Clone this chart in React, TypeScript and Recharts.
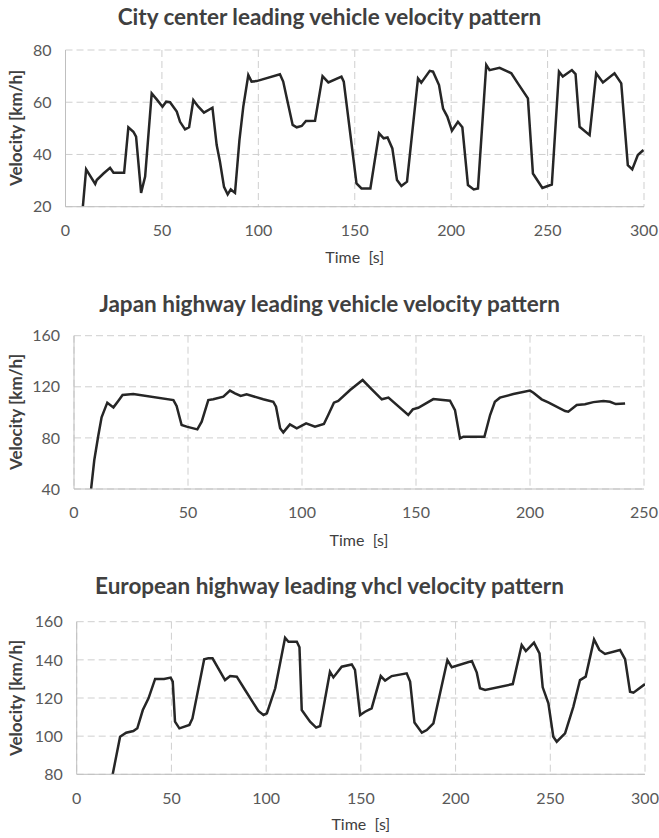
import React from "react";
import { LineChart, Line, XAxis, YAxis, CartesianGrid } from "recharts";

// City center cycle
const cityTime = [
  9, 10.7, 15.4, 16.2, 19.7, 23.1, 24.9, 30.4, 32.6, 35.2, 36.6, 39.2, 41.3, 44.7, 47.3, 50.3,
  52.2, 54.2, 57.7, 59.4, 62, 64.1, 66.3, 68.9, 71.8, 76.2, 78.4, 80.1, 82.2, 84.1, 85.7, 87.9,
  90.2, 92.2, 94.8, 96.5, 99.1, 111.2, 112.9, 115, 117.8, 119.9, 122.5, 124.7, 129.4, 133.3,
  136.3, 143.1, 144.3, 150.9, 153.5, 158.1, 162.6, 165, 167, 169.5, 171.9, 174.2, 177.1, 182.8,
  184.5, 188.9, 190.6, 193.7, 195.8, 198, 200.4, 203.5, 205.8, 208.7, 211.7, 213.9, 218.2, 219.9,
  225.1, 231.2, 234.6, 239.8, 242.4, 244.1, 247.3, 252.2, 255.9, 257.9, 262.6, 264.5, 266.6,
  271.8, 275.2, 278.7, 284.7, 288.2, 291.6, 293.9, 296.8, 299.7,
];
const citySpeed = [
  20, 34.3, 28.7, 30.2, 32.7, 34.9, 33, 33, 50.4, 48.7, 46.8, 25.3, 31.5, 63.4, 61.1, 58.3, 60.2,
  60, 56.4, 52.5, 49.6, 50.4, 60.8, 58.3, 56, 57.9, 43.6, 37.2, 27.6, 24.7, 26.6, 25.3, 45.5, 58.3,
  70.4, 67.9, 68.1, 70.7, 67.9, 60.8, 51.3, 50.4, 50.9, 52.8, 52.9, 70, 67.6, 69.8, 67.9, 28.9, 27,
  27, 48.1, 46.2, 46.5, 42.3, 30.2, 27.9, 29.6, 69.1, 67.5, 72, 71.7, 66.6, 57.6, 54.5, 49.1, 52.5,
  50.4, 28.3, 26.6, 27, 74.3, 72.3, 73.2, 71.1, 67.2, 61.5, 32.7, 30.8, 27.2, 28.5, 71.7, 69.8,
  72.3, 70.8, 50.6, 47.4, 71.1, 67.6, 71.1, 67.2, 35.9, 34.3, 39.8, 41.7,
];

// Japan highway cycle
const japanTime = [
  7.5, 8.9, 10.7, 12.1, 14.6, 17.3, 19.4, 21.3, 26, 43.6, 45, 47.2, 49.4, 54.1, 56, 58.9, 61.1,
  65.5, 68.4, 70.6, 73.1, 75.7, 83, 87.4, 88.6, 90.4, 91.8, 94.7, 97.7, 101.8, 105.7, 109.6, 111.5,
  114, 115.9, 121.1, 126.6, 130.6, 135, 137.9, 146.6, 148.6, 151, 157.6, 164.9, 167.1, 169.3,
  170.8, 180, 182.5, 184.6, 186.8, 192.7, 200, 201.5, 205.1, 208, 215.4, 216.8, 220.5, 224.1,
  227.8, 232.2, 235.1, 237.6, 241.7,
];
const japanSpeed = [
  40, 62.7, 82.3, 96.1, 107.6, 103.9, 108.9, 113.6, 114.3, 109.6, 105, 90.1, 88.8, 86.7, 92.7,
  109.6, 110.2, 112.3, 117, 114.9, 112.8, 114.1, 110.2, 108.3, 104.4, 87.5, 84.3, 90.6, 87.5, 91.4,
  88.8, 90.9, 97.9, 107.6, 108.9, 117.5, 125.3, 118, 110.2, 111.5, 97.9, 102.3, 103.6, 110.4,
  109.1, 101.8, 79.6, 80.9, 80.9, 97.9, 108.3, 111.5, 114.3, 117, 115.4, 110.2, 107.8, 101, 100.5,
  105.7, 106.3, 108, 108.9, 108.3, 106.5, 107,
];

// European highway cycle
const euroTime = [
  19, 22.9, 26.1, 29.9, 32, 34.9, 37.9, 41.4, 46.1, 49.6, 50.7, 51.9, 54.2, 59.5, 61.1, 67.3, 69.5,
  71.7, 78.3, 81, 84.5, 88.9, 95.9, 98.6, 100.4, 104.8, 110, 111.8, 116.2, 117.6, 118.8, 123.2,
  126.4, 128.5, 133.7, 135.5, 139.9, 145.2, 146.9, 149.6, 152.2, 155.7, 160.5, 162.8, 166.3,
  174.2, 176, 178.3, 182.2, 184.8, 188.3, 195.7, 198, 208.6, 211.2, 212.9, 215.6, 230.2, 234.9,
  237.1, 241.4, 244.3, 246, 249, 251.6, 253.4, 257.8, 262.2, 265.7, 268.7, 273.1, 275.9, 278.9,
  286.8, 289.5, 292.1, 293.9, 300,
];
const euroSpeed = [
  80, 99.7, 101.8, 102.7, 104.1, 113.7, 119.8, 130, 130, 130.7, 128.6, 107.6, 104.1, 105.9, 109.3,
  140.3, 140.8, 140.8, 129.4, 131.5, 131.2, 124.2, 113.2, 111.1, 112, 125.1, 151.6, 149.5, 149.5,
  146.6, 113.7, 107.6, 104.5, 105.3, 133.8, 130.8, 136.4, 137.6, 134.7, 111.1, 112.8, 114.6, 131.5,
  129.1, 131.5, 132.9, 128.6, 107.1, 101.8, 103.2, 106.7, 139.9, 136.1, 139.4, 133.3, 125.1, 124.2,
  127.3, 147.8, 144.6, 149, 143.4, 125.6, 117.2, 99.7, 97.1, 101.5, 115.5, 129.4, 131.2, 150.7,
  145.2, 143.1, 145.2, 140.3, 123.3, 122.8, 127.3,
];

const cityXTicks = [0, 50, 100, 150, 200, 250, 300];
const cityYTicks = [20, 40, 60, 80];
const japanXTicks = [0, 50, 100, 150, 200, 250];
const japanYTicks = [40, 80, 120, 160];
const euroXTicks = [0, 50, 100, 150, 200, 250, 300];
const euroYTicks = [80, 100, 120, 140, 160];

const zip = (t: number[], v: number[]) => t.map((time, i) => ({ time, v: v[i] }));

const FONT = "Lato, 'Open Sans', sans-serif";

interface PanelProps {
  top: number;
  height: number;
  title: string;
  titleY: number;
  data: { time: number; v: number }[];
  xTicks: number[];
  yTicks: number[];
  plot: { left: number; right: number; top: number; bottom: number };
  timeY: number;
}

function Panel({ top, height, title, titleY, data, xTicks, yTicks, plot, timeY }: PanelProps) {
  const yAxisW = 60;
  const xAxisH = 30;
  const plotCx = (plot.left + plot.right) / 2;
  const plotCy = (plot.top + plot.bottom) / 2;
  return (
    <>
      <div
        style={{
          position: "absolute",
          left: 0,
          width: 659,
          top: titleY - 14,
          height: 28,
          lineHeight: "28px",
          textAlign: "center",
          fontFamily: FONT,
          fontWeight: 700,
          fontSize: 22.5,
          color: "#404040",
        }}
      >
        {title}
      </div>
      <div style={{ position: "absolute", left: 0, top }}>
        <LineChart
          width={659}
          height={height}
          data={data}
          margin={{
            top: plot.top - top,
            bottom: top + height - plot.bottom - xAxisH,
            left: plot.left - yAxisW,
            right: 659 - plot.right,
          }}
        >
          <CartesianGrid stroke="#cfcfcf" strokeDasharray="7 4" strokeWidth={1} />
          <XAxis
            dataKey="time"
            type="number"
            height={xAxisH}
            domain={[xTicks[0], xTicks[xTicks.length - 1]]}
            ticks={xTicks}
            tickLine={false}
            axisLine={{ stroke: "#bfbfbf" }}
            tickMargin={12}
            tick={{ fill: "#595959", fontSize: 16, fontFamily: FONT }}
            allowDataOverflow
          />
          <YAxis
            type="number"
            width={yAxisW}
            domain={[yTicks[0], yTicks[yTicks.length - 1]]}
            ticks={yTicks}
            tickLine={false}
            axisLine={{ stroke: "#bfbfbf" }}
            tickMargin={8}
            tick={{ fill: "#595959", fontSize: 16, fontFamily: FONT }}
            allowDataOverflow
          />
          <Line
            type="linear"
            dataKey="v"
            stroke="#262626"
            strokeWidth={2.5}
            dot={false}
            isAnimationActive={false}
          />
        </LineChart>
      </div>
      <div
        style={{
          position: "absolute",
          left: plotCx - 60,
          width: 120,
          top: timeY - 11,
          height: 22,
          lineHeight: "22px",
          textAlign: "center",
          fontFamily: FONT,
          fontSize: 16,
          color: "#404040",
        }}
      >
        Time&nbsp; [s]
      </div>
      <div
        style={{
          position: "absolute",
          left: 16 - 80,
          width: 160,
          top: plotCy - 11,
          height: 22,
          lineHeight: "22px",
          textAlign: "center",
          fontFamily: FONT,
          fontWeight: 700,
          fontSize: 17,
          color: "#404040",
          transform: "rotate(-90deg)",
        }}
      >
        Velocity [km/h]
      </div>
    </>
  );
}

export default function App() {
  return (
    <div
      style={{
        position: "absolute",
        left: 0,
        top: 0,
        width: 659,
        height: 838,
        background: "#ffffff",
        overflow: "hidden",
      }}
    >
      <Panel
        top={0}
        height={280}
        title="City center leading vehicle velocity pattern"
        titleY={17}
        data={zip(cityTime, citySpeed)}
        xTicks={cityXTicks}
        yTicks={cityYTicks}
        plot={{ left: 65.5, right: 644, top: 50, bottom: 206.7 }}
        timeY={257}
      />
      <Panel
        top={280}
        height={280}
        title="Japan highway leading vehicle velocity pattern"
        titleY={304}
        data={zip(japanTime, japanSpeed)}
        xTicks={japanXTicks}
        yTicks={japanYTicks}
        plot={{ left: 74, right: 644, top: 335.7, bottom: 489 }}
        timeY={540}
      />
      <Panel
        top={560}
        height={278}
        title="European highway leading vhcl velocity pattern"
        titleY={586}
        data={zip(euroTime, euroSpeed)}
        xTicks={euroXTicks}
        yTicks={euroYTicks}
        plot={{ left: 76.7, right: 645, top: 621.7, bottom: 774.3 }}
        timeY={824}
      />
    </div>
  );
}
